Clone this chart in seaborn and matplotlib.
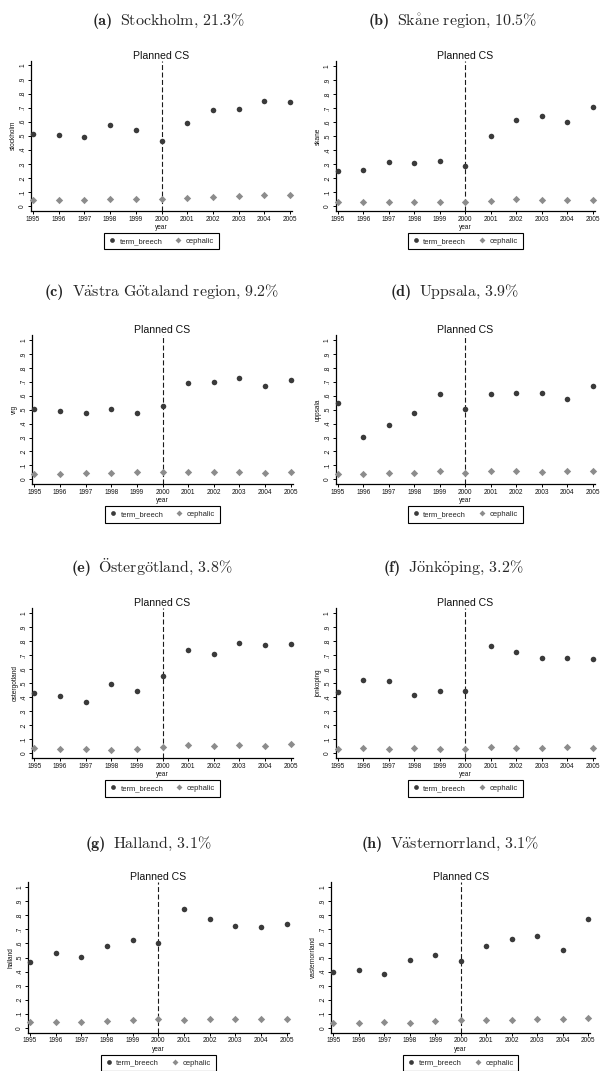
import numpy as np
import pandas as pd
import matplotlib
matplotlib.use("Agg")
import matplotlib.pyplot as plt
from matplotlib.lines import Line2D
import seaborn as sns

sns.set_theme(style="white")
plt.rcParams["font.family"] = ["Liberation Sans", "DejaVu Sans"]
plt.rcParams["mathtext.fontset"] = "cm"

# ---- data -------------------------------------------------------------
years = list(range(1995, 2006))

panel_tags = ["(a)", "(b)", "(c)", "(d)", "(e)", "(f)", "(g)", "(h)"]
panel_names = ["Stockholm, 21.3%", "Skåne region, 10.5%",
               "Västra Götaland region, 9.2%", "Uppsala, 3.9%",
               "Östergötland, 3.8%", "Jönköping, 3.2%",
               "Halland, 3.1%", "Västernorrland, 3.1%"]
region_vars = ["stockholm", "skane", "vrg", "uppsala",
               "ostergotland", "jonkoping", "halland", "vasternorrland"]

stockholm_breech = [0.514, 0.507, 0.493, 0.574, 0.543, 0.462, 0.590, 0.683, 0.690, 0.748, 0.740]
stockholm_ceph = [0.040, 0.043, 0.045, 0.052, 0.050, 0.048, 0.055, 0.064, 0.069, 0.076, 0.081]

skane_breech = [0.252, 0.257, 0.312, 0.305, 0.324, 0.283, 0.502, 0.617, 0.645, 0.600, 0.710]
skane_ceph = [0.031, 0.026, 0.029, 0.029, 0.029, 0.031, 0.038, 0.048, 0.043, 0.045, 0.045]

vrg_breech = [0.502, 0.493, 0.478, 0.502, 0.478, 0.529, 0.694, 0.699, 0.730, 0.672, 0.713]
vrg_ceph = [0.036, 0.038, 0.045, 0.043, 0.053, 0.053, 0.053, 0.055, 0.050, 0.048, 0.055]

uppsala_breech = [0.550, 0.306, 0.388, 0.474, 0.610, 0.507, 0.610, 0.617, 0.622, 0.574, 0.667]
uppsala_ceph = [0.036, 0.038, 0.043, 0.048, 0.060, 0.048, 0.062, 0.062, 0.055, 0.057, 0.060]

ostergotland_breech = [0.433, 0.410, 0.369, 0.493, 0.448, 0.555, 0.736, 0.707, 0.790, 0.774, 0.783]
ostergotland_ceph = [0.036, 0.031, 0.029, 0.026, 0.031, 0.043, 0.057, 0.055, 0.057, 0.055, 0.064]

jonkoping_breech = [0.440, 0.521, 0.514, 0.414, 0.443, 0.443, 0.769, 0.726, 0.681, 0.681, 0.676]
jonkoping_ceph = [0.033, 0.038, 0.029, 0.038, 0.029, 0.029, 0.043, 0.036, 0.036, 0.048, 0.040]

halland_breech = [0.470, 0.530, 0.506, 0.582, 0.622, 0.601, 0.846, 0.772, 0.727, 0.720, 0.736]
halland_ceph = [0.040, 0.043, 0.043, 0.048, 0.055, 0.059, 0.052, 0.064, 0.062, 0.064, 0.059]

vasternorrland_breech = [0.394, 0.411, 0.380, 0.485, 0.520, 0.475, 0.580, 0.629, 0.656, 0.551, 0.772]
vasternorrland_ceph = [0.031, 0.036, 0.040, 0.033, 0.050, 0.055, 0.052, 0.052, 0.059, 0.059, 0.071]

breech_series = [stockholm_breech, skane_breech, vrg_breech, uppsala_breech,
                 ostergotland_breech, jonkoping_breech, halland_breech, vasternorrland_breech]
ceph_series = [stockholm_ceph, skane_ceph, vrg_ceph, uppsala_ceph,
               ostergotland_ceph, jonkoping_ceph, halland_ceph, vasternorrland_ceph]

y_ticks = [0, 0.1, 0.2, 0.3, 0.4, 0.5, 0.6, 0.7, 0.8, 0.9, 1.0]
y_ticklabels = ["0", ".1", ".2", ".3", ".4", ".5", ".6", ".7", ".8", ".9", "1"]


def to_cm(text):
    """Turn a plain caption into Computer Modern mathtext (accents included)."""
    repl = {"ä": r"\ddot{a}", "ö": r"\ddot{o}", "Ö": r"\ddot{O}",
            "å": r"\mathring{a}", " ": r"\ ", "%": r"\%", ",": r"{,}"}
    return r"$\mathrm{" + "".join(repl.get(c, c) for c in text) + "}$"


# ---- layout (pixels) ----------------------------------------------------
W, H = 602, 1071
fig = plt.figure(figsize=(W / 100, H / 100), dpi=100)
fig.patch.set_facecolor("white")
renderer = fig.canvas.get_renderer()

def fx(px):
    return px / W

def fy(py):
    return 1 - py / H

# per panel: x pixel of 1995, x pixel of 2005, y pixel of 0, y pixel of 1
geom = [
    (33.0, 290.0, 206.0, 65.5), (337.7, 592.7, 206.0, 66.0),
    (34.3, 290.7, 479.3, 340.0), (337.7, 592.7, 479.3, 340.0),
    (34.3, 290.7, 753.3, 613.3), (337.7, 592.7, 753.3, 613.3),
    (30.0, 286.7, 1027.7, 887.3), (333.3, 588.3, 1027.7, 887.3),
]
title_pos = [(169, 25), (453, 25), (162, 296), (455, 296),
             (152, 572), (454, 572), (148.5, 848), (450, 848)]

XPAD, YPAD = 0.08, 0.035
breech_color = "#3a3a3a"
ceph_color = "#8c8c8c"
tick_fs = 4.7
title_fs = 11.5

for i in range(8):
    p0, p1, y0, y1 = geom[i]
    ppy = (p1 - p0) / 10.0
    ppu = y0 - y1
    left = p0 - XPAD * ppy
    right = p1 + XPAD * ppy
    bot = y0 + YPAD * ppu
    top = y1 - YPAD * ppu
    ax = fig.add_axes([fx(left), fy(bot), (right - left) / W, (bot - top) / H])

    df = pd.DataFrame({
        "year": years * 2,
        "value": breech_series[i] + ceph_series[i],
        "series": ["term_breech"] * len(years) + ["cephalic"] * len(years),
    })
    sns.scatterplot(data=df[df.series == "term_breech"], x="year", y="value",
                    color=breech_color, marker="o", s=16, linewidth=0,
                    legend=False, ax=ax, zorder=3, clip_on=False)
    sns.scatterplot(data=df[df.series == "cephalic"], x="year", y="value",
                    color=ceph_color, marker="D", s=14, linewidth=0,
                    legend=False, ax=ax, zorder=3, clip_on=False)

    ax.axvline(2000, color="#1a1a1a", lw=0.8, ls=(0, (4.5, 2.2)), zorder=2)

    ax.set_xlim(1995 - XPAD, 2005 + XPAD)
    ax.set_ylim(-YPAD, 1 + YPAD)
    ax.set_xticks(years)
    ax.set_xticklabels([str(y) for y in years], fontsize=tick_fs)
    ax.set_yticks(y_ticks)
    ax.set_yticklabels(y_ticklabels, fontsize=tick_fs, rotation=90, va="center")
    ax.tick_params(axis="both", which="major", direction="out", length=2.2,
                   width=0.7, color="black", pad=1.2, left=True, bottom=True,
                   labelcolor="#111111")
    ax.set_xlabel("year", fontsize=tick_fs, labelpad=1.0, color="#111111")
    ax.set_ylabel(region_vars[i], fontsize=tick_fs, labelpad=1.5, color="#111111")
    for side in ("top", "right"):
        ax.spines[side].set_visible(False)
    for side in ("left", "bottom"):
        ax.spines[side].set_color("black")
        ax.spines[side].set_linewidth(0.9)
    ax.set_facecolor("white")
    ax.grid(False)

    ax.text(0.5, 1.0, "Planned CS", transform=ax.transAxes, ha="center",
            va="bottom", fontsize=7.6, color="#111111")

    handles = [
        Line2D([], [], ls="none", marker="o", color=breech_color, markersize=3.4,
               markeredgewidth=0, label="term_breech"),
        Line2D([], [], ls="none", marker="D", color=ceph_color, markersize=3.0,
               markeredgewidth=0, label="cephalic"),
    ]
    leg_top_off = 22.0 / (bot - top)
    leg = ax.legend(handles=handles, loc="upper center",
                    bbox_to_anchor=(0.5, -leg_top_off),
                    ncol=2, fontsize=5.5, frameon=True, fancybox=False,
                    edgecolor="black", framealpha=1, borderpad=0.6,
                    handlelength=0.8, handletextpad=0.6, columnspacing=1.7,
                    borderaxespad=0)
    leg.get_frame().set_linewidth(0.8)

    # panel caption: bold tag followed by the region and its share
    cx, by = title_pos[i]
    t1 = fig.text(0, 0, panel_tags[i], fontfamily="cmb10", fontsize=title_fs,
                  ha="left", va="baseline")
    t2 = fig.text(0, 0, to_cm(panel_names[i]), fontsize=title_fs,
                  ha="left", va="baseline")
    w1 = t1.get_window_extent(renderer).width
    w2 = t2.get_window_extent(renderer).width
    gap = 0.45 * title_fs * 100 / 72
    start = cx - (w1 + gap + w2) / 2
    t1.set_position((fx(start), fy(by)))
    t2.set_position((fx(start + w1 + gap), fy(by)))

fig.savefig("out.png", dpi=100, facecolor="white")
